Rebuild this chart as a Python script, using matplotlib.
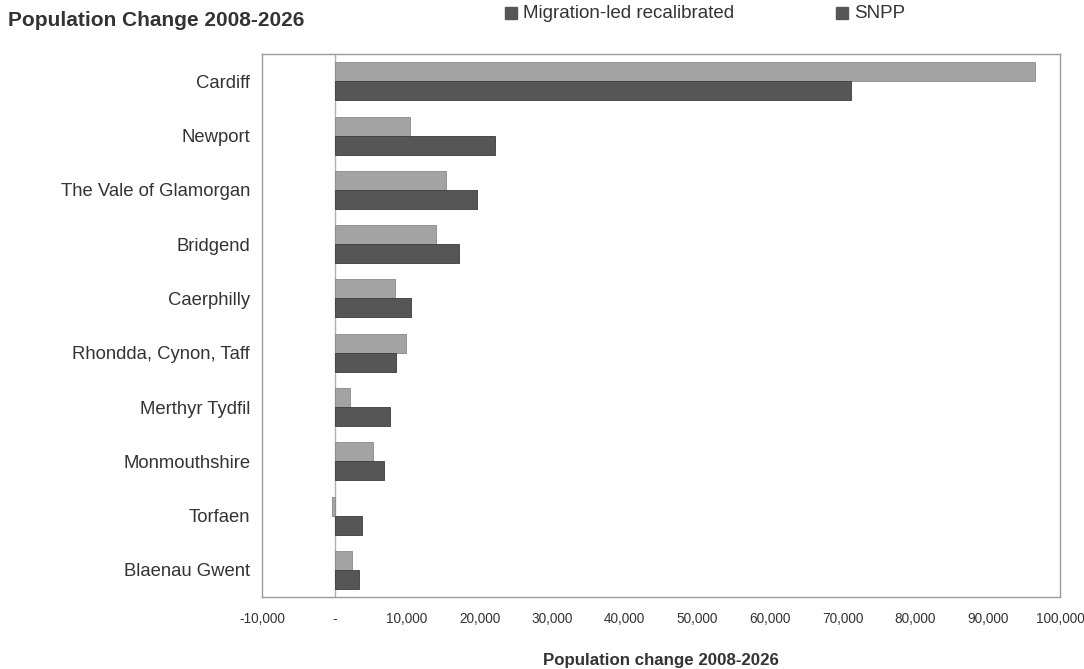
"""
Cambio de población 2008-2026 por autoridad local: dos proyecciones en barras horizontales.
"""
import matplotlib
matplotlib.use("Agg")
import matplotlib.pyplot as plt
from matplotlib.ticker import FuncFormatter
from matplotlib.patches import Rectangle
from matplotlib import font_manager
import numpy as np

areas = ["Cardiff", "Newport", "The Vale of Glamorgan", "Bridgend", "Caerphilly",
         "Rhondda, Cynon, Taff", "Merthyr Tydfil", "Monmouthshire", "Torfaen",
         "Blaenau Gwent"]
migration_led = [96600, 10400, 15400, 14000, 8300, 9900, 2100, 5300, -300, 2400]
snpp = [71200, 22100, 19600, 17200, 10600, 8500, 7700, 6800, 3800, 3300]
series_names = ["Migration-led recalibrated", "SNPP"]

LIGHT, DARK = "#a3a3a3", "#565656"

plt.rcParams["font.family"] = ["Liberation Sans", "DejaVu Sans"]
names = {f.name for f in font_manager.fontManager.ttflist}
NARROW = "Liberation Sans Narrow" if "Liberation Sans Narrow" in names else "Liberation Sans"

W, H = 1084, 669
fig = plt.figure(figsize=(W / 100, H / 100), dpi=100)
ax = fig.add_axes([0.2417, 0.1076, 0.7363, 0.8114])

y = np.arange(len(areas))
h = 0.35
ax.barh(y - h / 2, migration_led, height=h, color=LIGHT, edgecolor="#8a8a8a", linewidth=0.6)
ax.barh(y + h / 2, snpp, height=h, color=DARK, edgecolor="#3c3c3c", linewidth=0.6)

ax.set_xlim(-10000, 100000)
ax.set_ylim(len(areas) - 0.5, -0.5)
ax.axvline(0, color="#b0b0b0", lw=1.0, zorder=0)

ax.set_xticks(np.arange(-10000, 100001, 10000))
ax.xaxis.set_major_formatter(FuncFormatter(lambda v, p: "-" if v == 0 else f"{v:,.0f}"))
ax.tick_params(axis="x", length=0, pad=11, labelsize=9.8, colors="#333333")
ax.set_yticks(y)
ax.set_yticklabels(areas, fontsize=13.3, color="#333333")
ax.tick_params(axis="y", length=0, pad=8.5)

for s in ax.spines.values():
    s.set_color("#9a9a9a")
    s.set_linewidth(1.0)

ax.set_xlabel("Population change 2008-2026", fontsize=12.2, fontweight="bold",
              family=NARROW, color="#333333", labelpad=19)

fig.text(8 / W, 1 - 20 / H, "Population Change 2008-2026", fontsize=15, fontweight="bold",
         family=NARROW, color="#333333", va="center")
# leyenda manual arriba, como en el original (los dos cuadros son oscuros)
for xs, name in zip([505, 836], series_names):
    fig.patches.append(Rectangle((xs / W, 1 - 19 / H), 12 / W, 12 / H,
                                 transform=fig.transFigure, color=DARK))
    fig.text((xs + 18) / W, 1 - 13.5 / H, name, fontsize=13.5, color="#333333",
             va="center")

fig.savefig("out.png", dpi=100)
